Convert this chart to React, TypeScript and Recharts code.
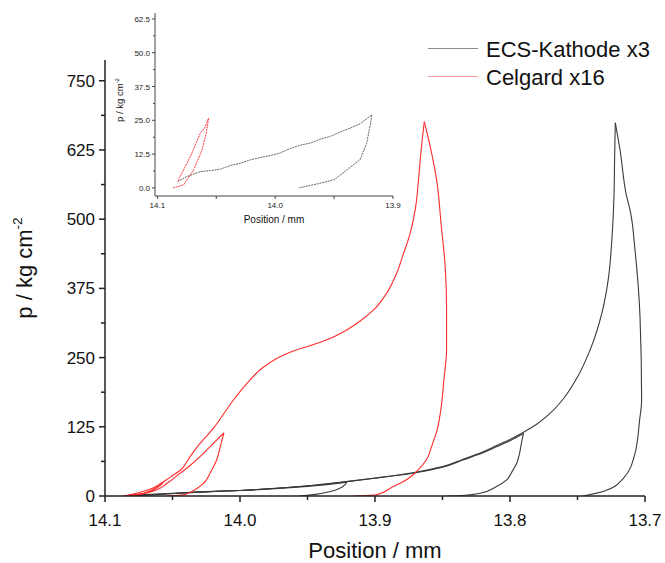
import React from 'react';
import { LineChart, Line, XAxis, YAxis } from 'recharts';

const FONT = '"Liberation Sans", Arial, Helvetica, sans-serif';
const BLACK = '#3a3a3a';
const RED = '#ff2b2b';

// ---- main chart: ECS-Kathode x3, loading and unloading branches (unloading listed bottom -> peak) ----
const kathode1LoadPos = [14.084, 14.07, 14.05, 14.03, 14.0, 13.98, 13.96, 13.94, 13.921];
const kathode1LoadP = [0, 2.5, 5, 7.5, 10, 12.5, 15.5, 19.5, 25];
const kathode1UnloadPos = [13.956, 13.944, 13.933, 13.926, 13.922, 13.921];
const kathode1UnloadP = [0, 3, 8, 14, 21, 25];

const kathode2LoadPos = [14.084, 14.06, 14.03, 14.0, 13.97, 13.945, 13.921, 13.9, 13.872, 13.85, 13.835, 13.82, 13.81, 13.8, 13.79];
const kathode2LoadP = [0, 3, 7, 10, 14.5, 19.5, 26, 32, 41, 52, 65, 78, 89, 100, 113];
const kathode2UnloadPos = [13.847, 13.835, 13.822, 13.81, 13.8025, 13.799, 13.795, 13.793, 13.7915, 13.79];
const kathode2UnloadP = [0, 1, 5, 17, 29, 42, 59, 76, 96, 113];

const kathode3LoadPos = [14.084, 14.06, 14.03, 14.0, 13.97, 13.945, 13.921, 13.9, 13.872, 13.85, 13.835, 13.82, 13.81, 13.8, 13.79, 13.78, 13.77, 13.76, 13.75, 13.74, 13.732, 13.727, 13.7245, 13.723, 13.7225, 13.722];
const kathode3LoadP = [0, 3, 7, 10, 14.5, 19.5, 26, 32.5, 42, 53, 66, 80, 91, 102, 115, 130, 150, 177, 215, 268, 330, 395, 465, 540, 610, 674];
const kathode3UnloadPos = [13.746, 13.731, 13.716, 13.7074, 13.704, 13.7025, 13.7037, 13.7074, 13.711, 13.7136, 13.7185, 13.722];
const kathode3UnloadP = [0, 8, 32, 77, 137, 173, 324, 444, 516, 541, 625, 674];

// ---- main chart: Celgard x16 ----
const celgard1LoadPos = [14.087, 14.08, 14.072, 14.064, 14.057];
const celgard1LoadP = [0, 3, 8, 15, 24.7];
const celgard1UnloadPos = [14.082, 14.074, 14.066, 14.06, 14.057];
const celgard1UnloadP = [0, 3, 9, 17, 24.7];

const celgard2LoadPos = [14.084, 14.072, 14.063, 14.054, 14.045, 14.037, 14.0296, 14.021, 14.0119];
const celgard2LoadP = [0, 4, 10, 23, 40, 55, 71, 92, 114];
const celgard2UnloadPos = [14.054, 14.042, 14.035, 14.027, 14.022, 14.0173, 14.0145, 14.0119];
const celgard2UnloadP = [0, 2, 9, 23, 42, 65, 90, 114];

const celgard3LoadPos = [14.0864, 14.076, 14.066, 14.059, 14.051, 14.044, 14.037, 14.0296, 14.0198, 14.005, 13.995, 13.983, 13.97, 13.958, 13.946, 13.933, 13.921, 13.911, 13.901, 13.892, 13.884, 13.879, 13.874, 13.87, 13.868, 13.866, 13.8635];
const celgard3LoadP = [0, 3, 10, 22, 35, 47, 71, 95, 122, 173, 203, 232, 252, 264, 273, 285, 300, 316, 336, 364, 402, 437, 474, 520, 565, 620, 676];
const celgard3UnloadPos = [13.916, 13.899, 13.888, 13.877, 13.872, 13.867, 13.862, 13.858, 13.854, 13.851, 13.849, 13.847, 13.847, 13.848, 13.851, 13.854, 13.859, 13.8635];
const celgard3UnloadP = [0, 2, 15, 29, 38, 50, 65, 90, 119, 160, 209, 264, 340, 414, 490, 565, 630, 676];

// ---- inset: first cycle ----
const insetKathodePos = [14.0828, 14.075, 14.0636, 14.055, 14.0466, 14.038, 14.0297, 14.021, 14.0127, 14.004, 13.9958, 13.987, 13.9788, 13.97, 13.9619, 13.953, 13.945, 13.936, 13.928, 13.918, 13.919, 13.9223, 13.928, 13.939, 13.95, 13.962, 13.98];
const insetKathodeP = [2.3, 4.2, 6.0, 6.4, 6.9, 8.3, 9.1, 10.4, 11.2, 12.0, 12.9, 14.6, 15.8, 16.6, 18.0, 19.1, 20.6, 22.2, 23.7, 27.0, 24.0, 16.5, 10.4, 6.7, 3.0, 1.7, 0];

const insetCelgardPos = [14.0867, 14.0777, 14.0692, 14.0621, 14.0585, 14.0565, 14.06, 14.0636, 14.072, 14.0828];
const insetCelgardP = [0, 1.1, 6.7, 14, 20.2, 25.8, 22.0, 20.2, 11.6, 2.3];

// ticks
const mainXTicks = [13.7, 13.75, 13.8, 13.85, 13.9, 13.95, 14.0, 14.05, 14.1];
const mainYTicks = [0, 62.5, 125, 187.5, 250, 312.5, 375, 437.5, 500, 562.5, 625, 687.5, 750];
const insetXTicks = [13.9, 13.95, 14.0, 14.05, 14.1];
const insetYTicks = [0, 6.25, 12.5, 18.75, 25, 31.25, 37.5, 43.75, 50, 56.25, 62.5];

const legendNames = ['ECS-Kathode x3', 'Celgard x16'];

const zip = (pos: number[], p: number[]) => pos.map((x, i) => ({ pos: x, p: p[i] }));
const isMultiple = (v: number, step: number) => Math.abs(v / step - Math.round(v / step)) < 1e-6;

function MainXTick({ x, y, payload }: any) {
  const major = isMultiple(payload.value, 0.1);
  return (
    <g>
      <line x1={x} x2={x} y1={y} y2={y + (major ? 6 : 4)} stroke="#222" strokeWidth={1.5} />
      {major && (
        <text x={x} y={y + 30} textAnchor="middle" fontSize={17} fill="#111" fontFamily={FONT}>
          {payload.value.toFixed(1)}
        </text>
      )}
    </g>
  );
}

function MainYTick({ x, y, payload }: any) {
  const major = isMultiple(payload.value, 125);
  return (
    <g>
      <line x1={x} x2={x - (major ? 6 : 4)} y1={y} y2={y} stroke="#222" strokeWidth={1.5} />
      {major && (
        <text x={x - 10} y={y + 6} textAnchor="end" fontSize={17} fill="#111" fontFamily={FONT}>
          {payload.value}
        </text>
      )}
    </g>
  );
}

function InsetXTick({ x, y, payload }: any) {
  const major = isMultiple(payload.value, 0.1);
  return (
    <g>
      <line x1={x} x2={x} y1={y} y2={y + 3} stroke="#444" strokeWidth={1} />
      {major && (
        <text x={x} y={y + 12} textAnchor="middle" fontSize={8} fill="#222" fontFamily={FONT}>
          {payload.value.toFixed(1)}
        </text>
      )}
    </g>
  );
}

function InsetYTick({ x, y, payload }: any) {
  const major = isMultiple(payload.value, 12.5);
  return (
    <g>
      <line x1={x} x2={x - (major ? 3 : 2)} y1={y} y2={y} stroke="#444" strokeWidth={1} />
      {major && (
        <text x={x - 5} y={y + 3} textAnchor="end" fontSize={8} fill="#222" fontFamily={FONT}>
          {payload.value.toFixed(1)}
        </text>
      )}
    </g>
  );
}

function PressureTitle({ px, py, size }: { px: number; py: number; size: number }) {
  return (
    <text
      x={px}
      y={py}
      transform={`rotate(-90 ${px} ${py})`}
      textAnchor="middle"
      fontSize={size}
      fill="#111"
      fontFamily={FONT}
    >
      p / kg cm
      <tspan fontSize={size * 0.62} dy={-size * 0.45}>-2</tspan>
    </text>
  );
}

function PositionTitle({ px, py, size }: { px: number; py: number; size: number }) {
  return (
    <text x={px} y={py} textAnchor="middle" fontSize={size} fill="#111" fontFamily={FONT}>
      Position / mm
    </text>
  );
}

export default function App() {
  const mainLines = [
    { key: 'k1l', data: zip(kathode1LoadPos, kathode1LoadP), color: BLACK },
    { key: 'k1u', data: zip(kathode1UnloadPos, kathode1UnloadP), color: BLACK },
    { key: 'k2l', data: zip(kathode2LoadPos, kathode2LoadP), color: BLACK },
    { key: 'k2u', data: zip(kathode2UnloadPos, kathode2UnloadP), color: BLACK },
    { key: 'k3l', data: zip(kathode3LoadPos, kathode3LoadP), color: BLACK },
    { key: 'k3u', data: zip(kathode3UnloadPos, kathode3UnloadP), color: BLACK },
    { key: 'c1l', data: zip(celgard1LoadPos, celgard1LoadP), color: RED },
    { key: 'c1u', data: zip(celgard1UnloadPos, celgard1UnloadP), color: RED },
    { key: 'c2l', data: zip(celgard2LoadPos, celgard2LoadP), color: RED },
    { key: 'c2u', data: zip(celgard2UnloadPos, celgard2UnloadP), color: RED },
    { key: 'c3l', data: zip(celgard3LoadPos, celgard3LoadP), color: RED },
    { key: 'c3u', data: zip(celgard3UnloadPos, celgard3UnloadP), color: RED },
  ];

  return (
    <div style={{ position: 'absolute', left: 0, top: 0, width: 665, height: 563, background: '#fff', fontFamily: FONT }}>
      <div style={{ position: 'absolute', left: 0, top: 0 }}>
        <LineChart width={665} height={563} margin={{ top: 60, right: 20, bottom: 0, left: 0 }}>
          <XAxis
            type="number"
            dataKey="pos"
            domain={[13.7, 14.1]}
            reversed
            allowDataOverflow
            ticks={mainXTicks}
            interval={0}
            height={67}
            tickSize={0}
            tickMargin={0}
            tickLine={false}
            axisLine={{ stroke: '#222', strokeWidth: 1.5 }}
            tick={<MainXTick />}
            label={<PositionTitle px={375} py={558} size={22} />}
          />
          <YAxis
            type="number"
            dataKey="p"
            domain={[0, 787.5]}
            allowDataOverflow
            ticks={mainYTicks}
            interval={0}
            width={105}
            tickSize={0}
            tickMargin={0}
            tickLine={false}
            axisLine={{ stroke: '#222', strokeWidth: 1.5 }}
            tick={<MainYTick />}
            label={<PressureTitle px={32} py={268} size={22} />}
          />
          {mainLines.map((l) => (
            <Line
              key={l.key}
              data={l.data}
              dataKey="p"
              type="monotoneY"
              stroke={l.color}
              strokeWidth={1.1}
              dot={false}
              activeDot={false}
              isAnimationActive={false}
            />
          ))}
        </LineChart>
      </div>

      <div style={{ position: 'absolute', left: 100, top: 0 }}>
        <LineChart width={320} height={232} margin={{ top: 13, right: 27, bottom: 0, left: 0 }}>
          <XAxis
            type="number"
            dataKey="pos"
            domain={[13.9, 14.102]}
            reversed
            allowDataOverflow
            ticks={insetXTicks}
            interval={0}
            height={36}
            tickSize={0}
            tickMargin={0}
            tickLine={false}
            axisLine={{ stroke: '#444', strokeWidth: 1 }}
            tick={<InsetXTick />}
            label={<PositionTitle px={174} py={223} size={10} />}
          />
          <YAxis
            type="number"
            dataKey="p"
            domain={[-3, 64.7]}
            allowDataOverflow
            ticks={insetYTicks}
            interval={0}
            width={55}
            tickSize={0}
            tickMargin={0}
            tickLine={false}
            axisLine={{ stroke: '#444', strokeWidth: 1 }}
            tick={<InsetYTick />}
            label={<PressureTitle px={23} py={100} size={9.5} />}
          />
          <Line
            data={zip(insetKathodePos, insetKathodeP)}
            dataKey="p"
            type="linear"
            stroke="#666"
            strokeWidth={1}
            strokeDasharray="2 0.8"
            dot={false}
            activeDot={false}
            isAnimationActive={false}
          />
          <Line
            data={zip(insetCelgardPos, insetCelgardP)}
            dataKey="p"
            type="linear"
            stroke="#ff3b3b"
            strokeWidth={1}
            strokeDasharray="2 0.8"
            dot={false}
            activeDot={false}
            isAnimationActive={false}
          />
        </LineChart>
      </div>

      {legendNames.map((name, i) => (
        <div key={name}>
          <div
            style={{
              position: 'absolute',
              left: 428,
              top: 48 + i * 28,
              width: 50,
              height: 0,
              borderTop: `1.5px solid ${i === 0 ? '#8c8c8c' : '#ff9a9a'}`,
            }}
          />
          <div
            style={{
              position: 'absolute',
              left: 486,
              top: 37 + i * 28,
              fontSize: 22,
              lineHeight: '25px',
              color: '#111',
              whiteSpace: 'nowrap',
            }}
          >
            {name}
          </div>
        </div>
      ))}
    </div>
  );
}
